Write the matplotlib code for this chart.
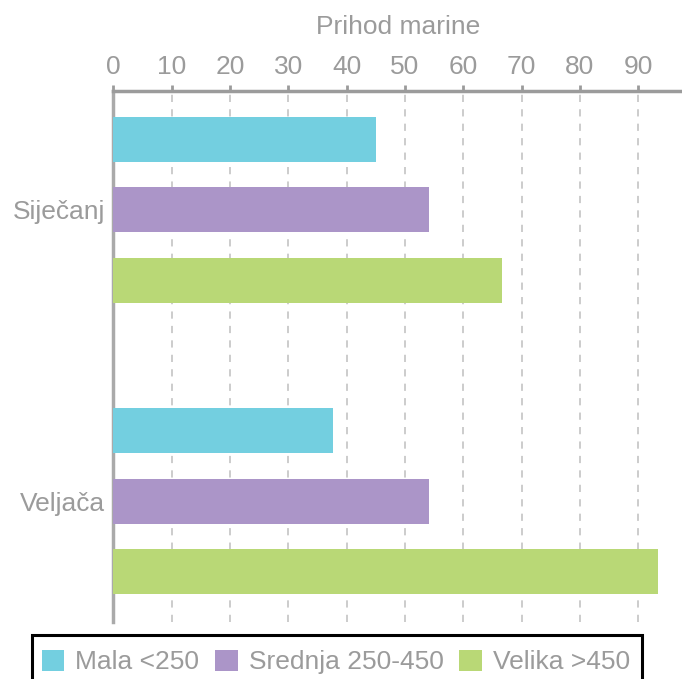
import numpy as np
import matplotlib.pyplot as plt
from matplotlib.patches import Rectangle

plt.rcParams['font.family'] = ['Liberation Sans', 'DejaVu Sans']

months = ['Siječanj', 'Veljača']
series_names = ['Mala <250', 'Srednja 250-450', 'Velika >450']
mala = [45, 37.7]
srednja = [54.1, 54.1]
velika = [66.7, 93.4]
colors = ['#73CFE0', '#AB95C8', '#B9D876']

grey = '#9B9B9B'
fs = 19

W, H = 682, 679
fig = plt.figure(figsize=(W / 100, H / 100), dpi=100)
ax = fig.add_axes([113.4 / W, 1 - 622 / H, (W - 113.4) / W, (622 - 91) / H])

y = np.arange(len(months))
offset = 0.242
height = 0.155
for i, (vals, c) in enumerate(zip([mala, srednja, velika], colors)):
    ax.barh(y + (i - 1) * offset, vals, height=height, color=c, label=series_names[i], zorder=3)

ax.set_xlim(0, 97.5)
ax.set_ylim(1.414, -0.407)
ax.set_xticks(np.arange(0, 100, 10))
ax.set_yticks(y)
ax.set_yticklabels(months)

ax.xaxis.tick_top()
ax.xaxis.set_label_position('top')
ax.set_xlabel('Prihod marine', fontsize=fs, color=grey, labelpad=15)

ax.tick_params(axis='x', colors=grey, labelsize=fs, length=4.5, width=2, pad=4, labelcolor=grey)
ax.tick_params(axis='y', length=0, labelsize=fs, labelcolor=grey, pad=6)

for s in ['right', 'bottom']:
    ax.spines[s].set_visible(False)
ax.spines['top'].set_color(grey)
ax.spines['top'].set_linewidth(2.5)
ax.spines['left'].set_color('#AAAAAA')
ax.spines['left'].set_linewidth(2.5)

ax.grid(axis='x', color='#C8C8C8', linestyle=(0, (4, 4)), linewidth=1.3, zorder=0)

# legend frame drawn separately (it runs off the bottom edge in the reference)
fig.patches.append(Rectangle((31.5 / W, -0.05), (642 - 31.5) / W, 0.05 + 1 - 634.5 / H,
                             transform=fig.transFigure, fill=False, edgecolor='black',
                             linewidth=2.2))
leg = fig.legend(loc='center', bbox_to_anchor=(336 / W, 1 - 662 / H), ncol=3,
                 fontsize=fs, frameon=False,
                 handlelength=0.85, handleheight=0.85, handletextpad=0.42,
                 columnspacing=0.6, borderaxespad=0)
for t in leg.get_texts():
    t.set_color(grey)

fig.savefig('out.png', dpi=100)
